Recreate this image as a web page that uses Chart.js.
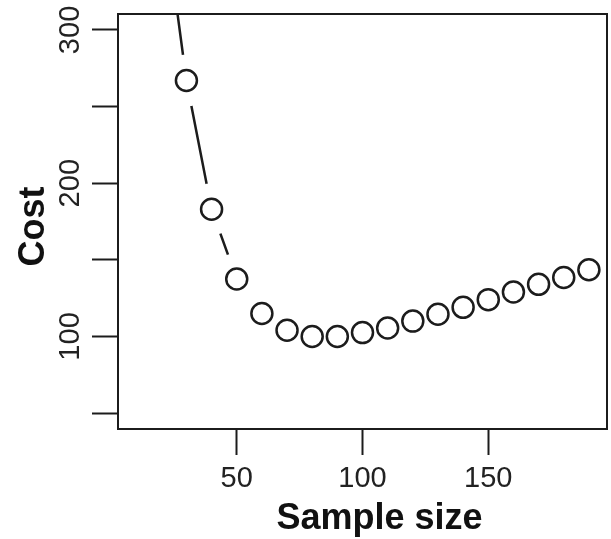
<!DOCTYPE html>
<html>
<head>
<meta charset="utf-8">
<script src="https://cdn.jsdelivr.net/npm/chart.js@4"></script>
<style>
  html, body { margin: 0; padding: 0; background: #fff; }
  canvas { display: block; }
</style>
</head>
<body>
<canvas id="chart" width="611" height="539"></canvas>
<script>
// Values (first two points sit above the plot top).
const sampleSizes = [10, 20, 30, 40, 50, 60, 70, 80, 90, 100, 110, 120, 130, 140, 150, 160, 170, 180, 190];
const costs       = [650, 390, 267, 183, 137.5, 115, 104, 100, 100, 102.5, 105.5, 110, 114.5, 119, 124, 129, 134, 138.5, 143.5];

const xTicks    = [50, 100, 150];
const yTicks    = [50, 100, 150, 200, 250, 300];
const yLabelled = [100, 200, 300];

const INK  = "#1c1c1c";
const FONT = "'Liberation Sans', Arial, sans-serif";

const points = sampleSizes.map((x, i) => ({ x, y: costs[i] }));

// Label overflow padding would shrink the plot; the page padding handles it.
function noPad(s) {
  s.paddingTop = s.paddingBottom = s.paddingLeft = s.paddingRight = 0;
}

// Box round the plot + axis titles, drawn after the datasets so the white
// gap discs never eat into the frame.
const framePlugin = {
  id: "frame",
  afterDatasetsDraw(chart) {
    const { ctx, chartArea: a } = chart;
    ctx.save();
    ctx.strokeStyle = INK;
    ctx.lineWidth = 2;
    ctx.strokeRect(a.left, a.top, a.right - a.left, a.bottom - a.top);

    ctx.fillStyle = "#111";
    ctx.font = `bold 36px ${FONT}`;
    ctx.textAlign = "center";
    ctx.textBaseline = "alphabetic";
    ctx.fillText("Sample size", (a.left + a.right) / 2 + 17, a.bottom + 100);

    ctx.translate(a.left - 84, (a.top + a.bottom) / 2 + 5);
    ctx.rotate(-Math.PI / 2);
    ctx.textBaseline = "middle";
    ctx.fillText("Cost", 0, 0);
    ctx.restore();
  }
};

new Chart(document.getElementById("chart"), {
  type: "line",
  data: {
    datasets: [
      // connecting line
      { data: points, borderColor: INK, borderWidth: 2.5, pointRadius: 0, pointHoverRadius: 0, order: 3 },
      // white discs that cut the line short round each point (R type = "b")
      { data: points, showLine: false, pointRadius: 26, pointHoverRadius: 26,
        pointBackgroundColor: "#fff", pointBorderWidth: 0, pointBorderColor: "#fff", order: 2 },
      // open circles
      { data: points, showLine: false, pointRadius: 10.5, pointHoverRadius: 10.5,
        pointBackgroundColor: "#fff", pointBorderColor: INK, pointBorderWidth: 2.5, order: 1 }
    ]
  },
  options: {
    responsive: false,
    devicePixelRatio: 1,
    animation: false,
    events: [],
    layout: { autoPadding: false, padding: { left: 0, top: 14, right: 4, bottom: 0 } },
    plugins: { legend: { display: false }, tooltip: { enabled: false } },
    scales: {
      x: {
        type: "linear",
        min: 2.8,
        max: 197.2,
        afterBuildTicks: s => { s.ticks = xTicks.map(v => ({ value: v })); },
        afterFit: s => { s.height = 110; noPad(s); },
        border: { display: false },
        grid: { drawOnChartArea: false, drawTicks: true, tickLength: 26, tickWidth: 2, tickColor: INK },
        ticks: { autoSkip: false, maxRotation: 0, padding: 7, color: "#222", font: { family: FONT, size: 29 } }
      },
      y: {
        type: "linear",
        min: 39.6,
        max: 310.4,
        afterBuildTicks: s => { s.ticks = yTicks.map(v => ({ value: v })); },
        afterFit: s => { s.width = 118; noPad(s); },
        border: { display: false },
        grid: { drawOnChartArea: false, drawTicks: true, tickLength: 26, tickWidth: 2, tickColor: INK },
        ticks: {
          autoSkip: false,
          minRotation: 90,
          maxRotation: 90,
          crossAlign: "center",
          padding: -3,
          color: "#222",
          font: { family: FONT, size: 29 },
          callback: v => yLabelled.includes(v) ? String(v) : ""
        }
      }
    }
  },
  plugins: [framePlugin]
});
</script>
</body>
</html>
